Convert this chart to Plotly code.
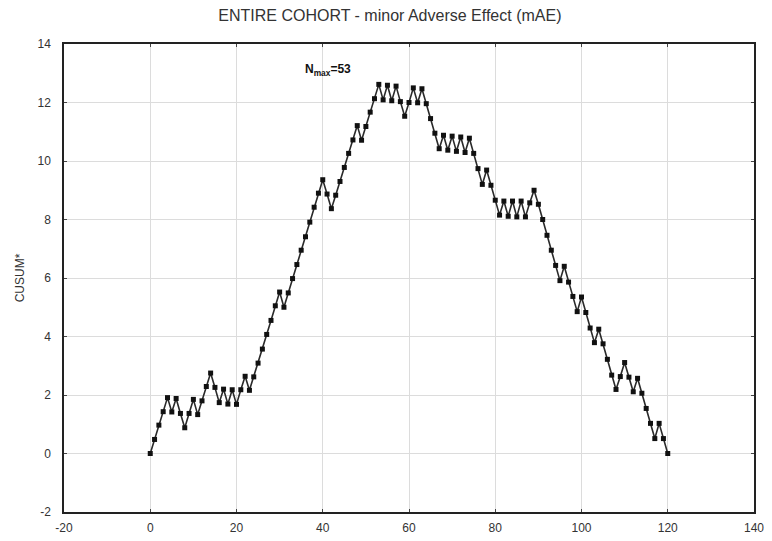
import plotly.graph_objects as go

# Case number (0..120) and CUSUM* value after each case
case_no = list(range(0, 121))
cusum = [
    0.00, 0.48, 0.97, 1.43, 1.91, 1.42, 1.88, 1.37, 0.88, 1.37,
    1.85, 1.33, 1.80, 2.29, 2.75, 2.26, 1.74, 2.20, 1.69, 2.18,
    1.68, 2.18, 2.64, 2.16, 2.62, 3.09, 3.57, 4.07, 4.55, 5.05,
    5.52, 5.00, 5.49, 5.98, 6.46, 6.95, 7.41, 7.91, 8.42, 8.90,
    9.36, 8.87, 8.37, 8.83, 9.30, 9.78, 10.26, 10.72, 11.21, 10.71,
    11.18, 11.67, 12.13, 12.62, 12.09, 12.59, 12.06, 12.56, 12.03, 11.53,
    12.00, 12.50, 11.99, 12.47, 11.96, 11.45, 10.95, 10.42, 10.88, 10.37,
    10.85, 10.33, 10.82, 10.29, 10.78, 10.26, 9.74, 9.20, 9.69, 9.17,
    8.66, 8.15, 8.63, 8.11, 8.63, 8.09, 8.63, 8.09, 8.57, 9.00,
    8.52, 8.00, 7.46, 6.95, 6.43, 5.91, 6.40, 5.86, 5.37, 4.85,
    5.35, 4.82, 4.29, 3.79, 4.25, 3.75, 3.22, 2.68, 2.19, 2.63,
    3.11, 2.61, 2.11, 2.57, 2.06, 1.54, 1.03, 0.51, 1.03, 0.51,
    0.00,
]

x_ticks = [-20, 0, 20, 40, 60, 80, 100, 120, 140]
y_ticks = [-2, 0, 2, 4, 6, 8, 10, 12, 14]

n_max = 53
title_text = "ENTIRE COHORT - minor Adverse Effect (mAE)"
y_title = "CUSUM*"

font_family = "Liberation Sans, Arial, sans-serif"

fig = go.Figure()
fig.add_trace(go.Scatter(
    x=case_no,
    y=cusum,
    mode="lines+markers",
    line=dict(color="#2a2a2a", width=1.6),
    marker=dict(symbol="square", size=5, color="#111111"),
    showlegend=False,
))

fig.add_annotation(
    x=41.3, y=13.1,
    text=f"<b>N<sub>max</sub>={n_max}</b>",
    showarrow=False,
    font=dict(family=font_family, size=12, color="#111111"),
)

axis_common = dict(
    showgrid=True,
    gridcolor="#dcdcdc",
    gridwidth=1,
    showline=True,
    linecolor="#222222",
    linewidth=1.5,
    mirror="ticks",
    ticks="inside",
    ticklen=3,
    tickcolor="#444444",
    zeroline=False,
    automargin=False,
    tickfont=dict(family=font_family, size=12, color="#333333"),
)

fig.update_xaxes(
    range=[-20, 140],
    tickvals=x_ticks,
    ticktext=[str(v) for v in x_ticks],
    ticklabelstandoff=4,
    **axis_common,
)
fig.update_yaxes(
    range=[-2, 14],
    tickvals=y_ticks,
    ticktext=[str(v) for v in y_ticks],
    ticklabelstandoff=9,
    title=dict(text=y_title, font=dict(family=font_family, size=12, color="#333333"), standoff=10),
    **axis_common,
)

fig.update_layout(
    width=772,
    height=541,
    margin=dict(l=64, r=18, t=44, b=29),
    paper_bgcolor="white",
    plot_bgcolor="white",
    title=dict(
        text=title_text,
        x=0.505, xanchor="center",
        y=0.972, yanchor="middle",
        font=dict(family=font_family, size=16, color="#333333"),
    ),
)

fig.write_html("out.html")
